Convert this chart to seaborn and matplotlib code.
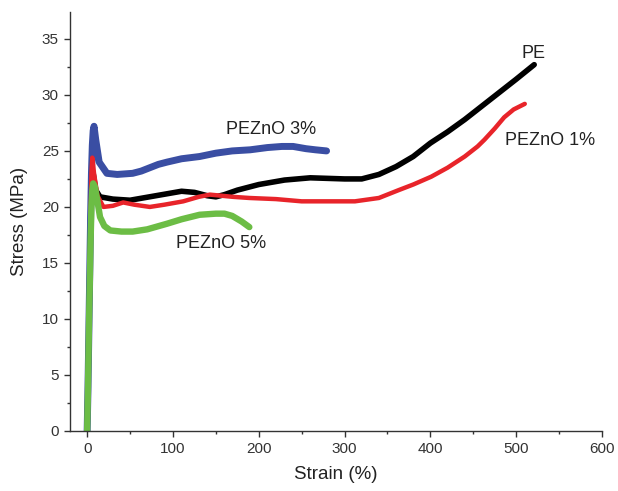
import matplotlib
matplotlib.use("Agg")
import matplotlib.pyplot as plt
import seaborn as sns
import pandas as pd
from matplotlib.ticker import MultipleLocator

sns.set_theme(style="ticks")
plt.rcParams['font.family'] = ['Liberation Sans', 'DejaVu Sans']

# Data (strain %, stress MPa)
pe_x = [0, 1, 2, 3, 4, 5, 7, 10, 15, 30, 50, 65, 80, 95, 110, 125, 140, 150, 160, 175, 200, 230, 260, 300, 320, 340, 360, 380, 400, 420, 440, 460, 480, 500, 521]
pe_y = [0, 4, 9, 14, 19, 22.5, 23, 21.5, 20.9, 20.7, 20.6, 20.8, 21.0, 21.2, 21.4, 21.3, 21.0, 20.9, 21.1, 21.5, 22.0, 22.4, 22.6, 22.5, 22.5, 22.9, 23.6, 24.5, 25.7, 26.7, 27.8, 29.0, 30.2, 31.4, 32.7]

zno1_x = [0, 1, 2, 3, 4, 5, 6, 8, 12, 19, 30, 42, 55, 73, 90, 112, 130, 143, 170, 189, 220, 250, 280, 312, 340, 363, 380, 401, 420, 440, 455, 463, 475, 486, 497, 510]
zno1_y = [0, 4, 9, 14, 19, 23, 24.4, 23, 21, 20.0, 20.1, 20.4, 20.2, 20.0, 20.2, 20.5, 20.9, 21.1, 20.9, 20.8, 20.7, 20.5, 20.5, 20.5, 20.8, 21.5, 22.0, 22.7, 23.5, 24.5, 25.4, 26.0, 27.0, 28.0, 28.7, 29.2]

zno3_x = [0, 1, 2, 3, 4, 5, 6, 7, 8, 10, 14, 23, 35, 53, 63, 73, 83, 93, 110, 131, 150, 169, 190, 210, 227, 240, 255, 266, 279]
zno3_y = [0, 4, 9, 14, 19, 23, 25.5, 26.8, 27.2, 26, 24, 23.0, 22.9, 23.0, 23.2, 23.5, 23.8, 24.0, 24.3, 24.5, 24.8, 25.0, 25.1, 25.3, 25.4, 25.4, 25.2, 25.1, 25.0]

zno5_x = [0, 1, 2, 3, 4, 5, 6, 7, 9, 12, 15, 20, 27, 40, 53, 70, 93, 110, 131, 150, 160, 169, 180, 189]
zno5_y = [0, 4, 9, 13, 17, 20, 21.5, 22.1, 21.8, 20.5, 19.1, 18.3, 17.9, 17.8, 17.8, 18.0, 18.5, 18.9, 19.3, 19.4, 19.4, 19.2, 18.7, 18.2]

series_names = ["PE", "PEZnO 3%", "PEZnO 1%", "PEZnO 5%"]
x_ticks = [0, 100, 200, 300, 400, 500, 600]
y_ticks = [0, 5, 10, 15, 20, 25, 30, 35]

series = {
    "PE": (pe_x, pe_y, "#000000", 4.0),
    "PEZnO 3%": (zno3_x, zno3_y, "#3a4ea3", 5.0),
    "PEZnO 1%": (zno1_x, zno1_y, "#e8242a", 3.2),
    "PEZnO 5%": (zno5_x, zno5_y, "#6cbd45", 4.6),
}

fig = plt.figure(figsize=(6.18, 4.91), dpi=100)
ax = fig.add_axes([70/618, 60/491, 532/618, 419/491])

for name in series_names:
    xs, ys, col, lw = series[name]
    df = pd.DataFrame({"Strain": xs, "Stress": ys})
    sns.lineplot(data=df, x="Strain", y="Stress", ax=ax, color=col,
                 linewidth=lw, sort=False, estimator=None,
                 solid_joinstyle="round", solid_capstyle="round")

ax.set_xlim(-20, 600)
ax.set_ylim(0, 37.4)
ax.set_xticks(x_ticks)
ax.set_yticks(y_ticks)
ax.xaxis.set_minor_locator(MultipleLocator(50))
ax.yaxis.set_minor_locator(MultipleLocator(2.5))

for s in ["top", "right"]:
    ax.spines[s].set_visible(False)
for s in ["left", "bottom"]:
    ax.spines[s].set_color("#333333")
    ax.spines[s].set_linewidth(1.0)

ax.tick_params(axis="both", which="major", direction="out", length=4, width=1.0,
               color="#333333", labelsize=11, labelcolor="#333333", pad=4)
ax.tick_params(axis="both", which="minor", direction="out", length=2.5, width=1.0,
               color="#333333")

ax.set_xlabel("Strain (%)", fontsize=13.5, color="#222222", labelpad=7)
ax.set_ylabel("Stress (MPa)", fontsize=13.5, color="#222222", labelpad=10)

txt_kw = dict(fontsize=13, color="#222222", ha="center", va="center")
ax.text(520, 33.7, "PE", **txt_kw)
ax.text(214, 26.9, "PEZnO 3%", **txt_kw)
ax.text(539, 25.9, "PEZnO 1%", **txt_kw)
ax.text(156, 16.7, "PEZnO 5%", **txt_kw)

fig.savefig("out.png", dpi=100)
